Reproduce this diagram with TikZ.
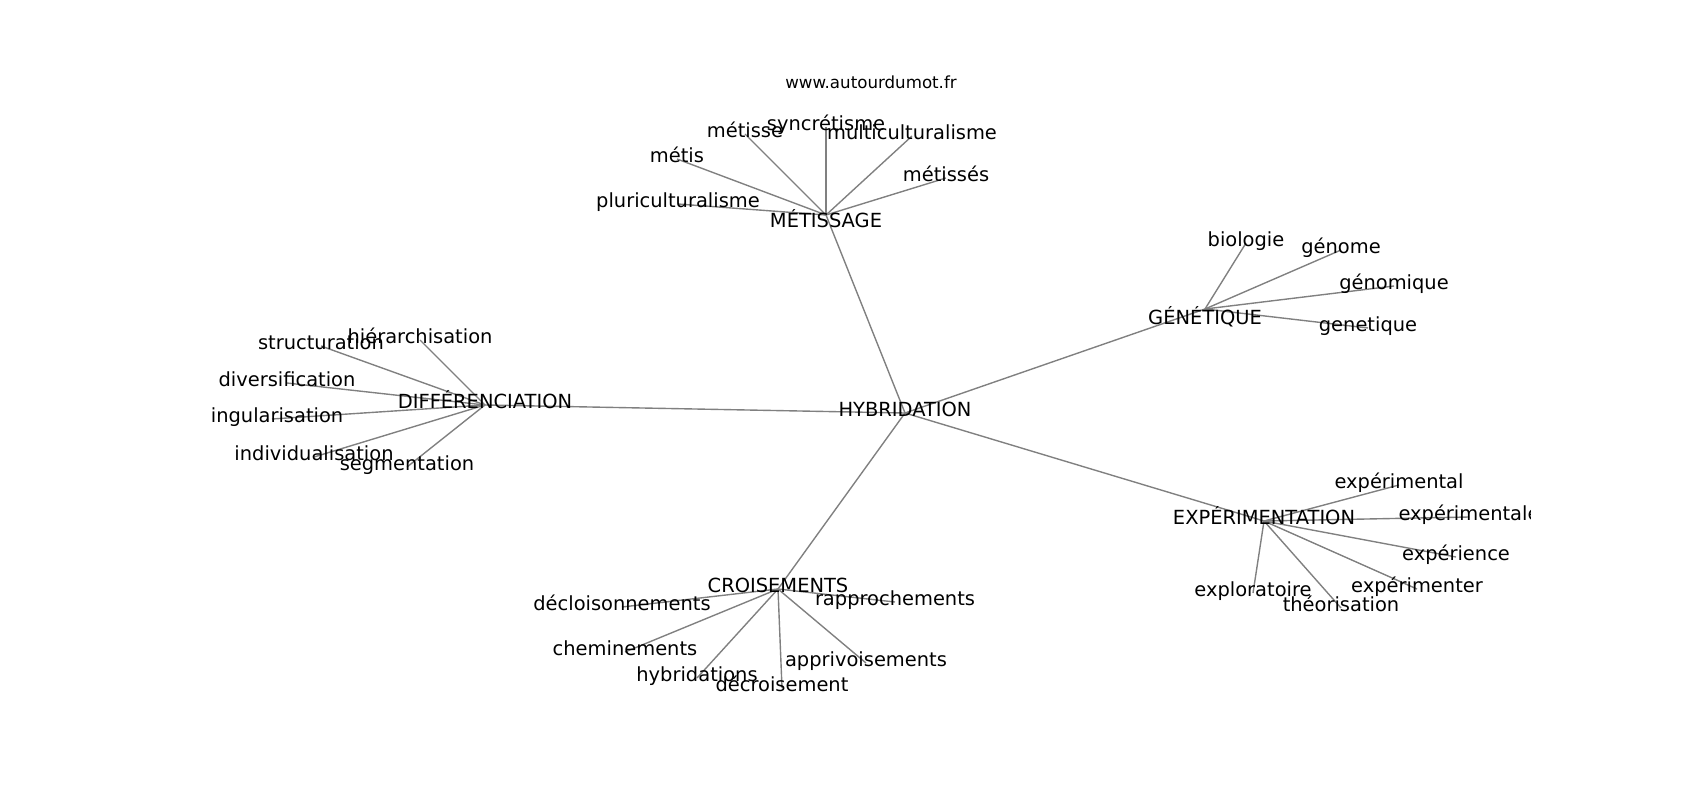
\documentclass[tikz,border=0pt]{standalone}
\usepackage{fontspec}
\setmainfont{DejaVu Sans}
\usetikzlibrary{backgrounds}
\tikzset{
  word/.style={inner sep=0pt, text height=0.76em, text depth=0.24em, anchor=center, font=\fontsize{14pt}{16pt}\selectfont, text=black},
  lowtext/.style={text height=#1},
  link/.style={draw=black!50, line width=1pt},
  caption/.style={inner sep=0pt, anchor=base, font=\fontsize{12pt}{14pt}\selectfont, text=black}
}
\begin{document}
\begin{tikzpicture}[x=0.72pt,y=-0.72pt]
\useasboundingbox (0,0) rectangle (1700,800);
\node[caption] (title) at (871,88) {www.autourdumot.fr};
\begin{scope}
\clip (212.5,96) rectangle (1530,712);
% hubs
\node[word] (hyb) at (905,413) {HYBRIDATION};
\node[word,lowtext=20.2pt] (met) at (826,215) {MÉTISSAGE};
\node[word] (dif) at (485,405) {DIFFÉRENCIATION};
\node[word,lowtext=24pt] (gen) at (1205,309) {GÉNÉTIQUE};
\node[word] (exp) at (1264,521) {EXPÉRIMENTATION};
\node[word] (cro) at (778,589) {CROISEMENTS};
% métissage
\node[word] (m1) at (745,134) {métisse};
\node[word] (m2) at (826,127) {syncrétisme};
\node[word] (m3) at (912,136) {multiculturalisme};
\node[word] (m4) at (677,159) {métis};
\node[word] (m5) at (678,204) {pluriculturalisme};
\node[word] (m6) at (946,178) {métissés};
% différenciation
\node[word] (d1) at (420,340) {hiérarchisation};
\node[word] (d2) at (321,346) {structuration};
\node[word] (d3) at (287,383) {diversification};
\node[word] (d4) at (272,419) {singularisation};
\node[word] (d5) at (314,457) {individualisation};
\node[word] (d6) at (407,467) {segmentation};
% expérimentation
\node[word] (e1) at (1399,485) {expérimental};
\node[word] (e2) at (1469,517) {expérimentale};
\node[word] (e3) at (1456,557) {expérience};
\node[word] (e4) at (1417,589) {expérimenter};
\node[word] (e5) at (1253,593) {exploratoire};
\node[word] (e6) at (1341,608) {théorisation};
% croisements
\node[word] (c1) at (622,607) {décloisonnements};
\node[word] (c2) at (895,602) {rapprochements};
\node[word] (c3) at (625,652) {cheminements};
\node[word] (c4) at (866,663) {apprivoisements};
\node[word] (c5) at (697,678) {hybridations};
\node[word] (c6) at (782,688) {décroisement};
% génétique
\node[word] (g1) at (1246,243) {biologie};
\node[word] (g2) at (1341,250) {génome};
\node[word] (g3) at (1394,286) {génomique};
\node[word] (g4) at (1368,328) {genetique};
\begin{scope}[on background layer]
\foreach \h in {met,dif,gen,exp,cro} \draw[link] (hyb.center) -- (\h.center);
\foreach \l in {m1,m2,m3,m4,m5,m6} \draw[link] (met.center) -- (\l.center);
\foreach \l in {d1,d2,d3,d4,d5,d6} \draw[link] (dif.center) -- (\l.center);
\foreach \l in {e1,e2,e3,e4,e5,e6} \draw[link] (exp.center) -- (\l.center);
\foreach \l in {c1,c2,c3,c4,c5,c6} \draw[link] (cro.center) -- (\l.center);
\foreach \l in {g1,g2,g3,g4} \draw[link] (gen.center) -- (\l.center);
\end{scope}
\end{scope}
\end{tikzpicture}
\end{document}
